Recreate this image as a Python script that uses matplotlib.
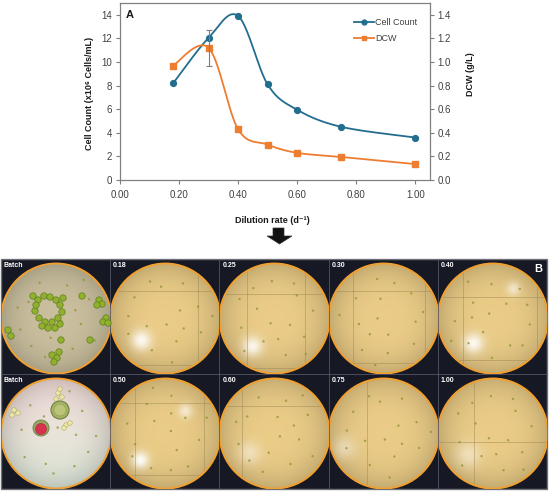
import numpy as np
import matplotlib
matplotlib.use("Agg")
import matplotlib.pyplot as plt
from matplotlib.patches import Circle, Rectangle, Polygon
from matplotlib.lines import Line2D

plt.rcParams['font.family'] = ['Liberation Sans', 'DejaVu Sans']

# ---- data ----
dilution = [0.18, 0.30, 0.40, 0.50, 0.60, 0.75, 1.00]
cell_count = [8.2, 12.05, 13.9, 8.1, 5.95, 4.5, 3.6]
dcw = [0.97, 1.12, 0.43, 0.30, 0.23, 0.195, 0.135]
dcw_err_x = 0.30
dcw_err_y = 1.12
dcw_err = 0.15

x_ticks = [0.0, 0.2, 0.4, 0.6, 0.8, 1.0]
left_ticks = [0, 2, 4, 6, 8, 10, 12, 14]
right_ticks = [0.0, 0.2, 0.4, 0.6, 0.8, 1.0, 1.2, 1.4]

image_labels = ['Batch', '0.18', '0.25', '0.30', '0.40',
                'Batch', '0.50', '0.60', '0.75', '1.00']

BLUE = '#236d8f'
ORANGE = '#ed7d31'
W, H = 550, 494


def smooth(x, y, n=40):
    # excel style smoothed line (bezier, 1/6 tangents)
    pts = np.column_stack([x, y]).astype(float)
    out = []
    for i in range(len(pts) - 1):
        p0 = pts[i - 1] if i > 0 else pts[i]
        p1, p2 = pts[i], pts[i + 1]
        p3 = pts[i + 2] if i + 2 < len(pts) else pts[i + 1]
        c1 = p1 + (p2 - p0) / 6
        c2 = p2 - (p3 - p1) / 6
        t = np.linspace(0, 1, n)[:, None]
        out.append((1 - t)**3 * p1 + 3 * (1 - t)**2 * t * c1
                   + 3 * (1 - t) * t**2 * c2 + t**3 * p2)
    s = np.vstack(out)
    return s[:, 0], s[:, 1]


fig = plt.figure(figsize=(5.5, 4.94), dpi=100)

# overlay in pixel coords for the arrow and the photo panel
ov = fig.add_axes([0, 0, 1, 1])
ov.set_xlim(0, W)
ov.set_ylim(H, 0)
ov.axis('off')

###### chart A ######
ax = fig.add_axes([120 / W, 1 - 180 / H, 310 / W, 177 / H])
ax2 = ax.twinx()

sx, sy = smooth(dilution, cell_count)
ax.plot(sx, sy, color=BLUE, lw=1.3, zorder=3)
ax.plot(dilution, cell_count, 'o', color=BLUE, ms=4.2, zorder=4)

dx, dy = smooth(dilution, dcw)
ax2.plot(dx, dy, color=ORANGE, lw=1.3, zorder=3)
ax2.plot(dilution, dcw, 's', color=ORANGE, ms=4.0, zorder=4)
ax2.errorbar([dcw_err_x], [dcw_err_y], yerr=dcw_err, fmt='none',
             ecolor='#7f7f7f', elinewidth=0.8, capsize=2.2, capthick=0.8, zorder=5)

ax.set_xlim(0, 1.05)
ax.set_ylim(0, 15)
ax2.set_ylim(0, 1.5)
ax.set_xticks(x_ticks)
ax.set_xticklabels(['%.2f' % v for v in x_ticks])
ax.set_yticks(left_ticks)
ax2.set_yticks(right_ticks)
ax2.set_yticklabels(['%.1f' % v for v in right_ticks])

for a in (ax, ax2):
    for sp in a.spines.values():
        sp.set_color('#7f7f7f')
        sp.set_linewidth(0.8)
    a.tick_params(length=3, width=0.8, color='#7f7f7f', labelsize=7,
                  labelcolor='#404040', pad=2.5)
ax.tick_params(axis='x', pad=4)

lab = dict(fontsize=6.5, fontweight='bold', color='#1a1a1a')
ax.set_xlabel('Dilution rate (d⁻¹)', **lab)
ax.xaxis.set_label_coords(0.49, -0.205)
ax.set_ylabel('Cell Count (x10⁶ Cells/mL)', **lab)
ax.yaxis.set_label_coords(-0.085, 0.49)
ax2.set_ylabel('DCW (g/L)', **lab)
ax2.yaxis.set_label_coords(1.115, 0.6)

ax.text(0.02, 0.932, 'A', transform=ax.transAxes, fontsize=8,
        fontweight='bold', va='center', ha='left', color='#1a1a1a')

handles = [Line2D([], [], color=BLUE, lw=1.3, marker='o', ms=3.5),
           Line2D([], [], color=ORANGE, lw=1.3, marker='s', ms=3.5)]
ax2.legend(handles, ['Cell Count', 'DCW'], loc='upper left',
           bbox_to_anchor=(0.755, 0.915), frameon=False, fontsize=6.5,
           handlelength=2.2, handletextpad=0.15, labelspacing=0.75,
           borderpad=0, borderaxespad=0, labelcolor='#404040')

###### arrow ######
arrow = [(273, 228), (284, 228), (284, 236), (292, 236), (279.5, 244),
         (267, 236), (273, 236)]
ov.add_patch(Polygon(arrow, closed=True, fc='#111111', ec='#333333', lw=0.5))

###### panel B (micrographs) ######
px0, py0, px1, py1 = 1, 259, 547, 489
cw = (px1 - px0) / 5
ch = (py1 - py0) / 2
ov.add_patch(Rectangle((px0, py0), px1 - px0, py1 - py0, fc='#161824',
                       ec='#8a8a8a', lw=1.0, zorder=1))

# glare spots per image: (dx, dy, size, strength)
glare = {1: [(-24, 22, 7, 0.9)], 2: [(-22, 28, 7, 0.85)],
         4: [(-20, 25, 7, 0.9), (20, -30, 5, 0.55)],
         6: [(-25, 27, 6, 0.95), (20, -22, 5, 0.6)], 7: [(-25, 20, 8, 0.45)],
         8: [(-40, 15, 8, 0.4)], 9: [(-25, 22, 9, 0.45)]}
# counting-chamber grid lines (relative to radius)
grid_v = {1: [0.6], 2: [-0.5, 0.55], 3: [-0.55, 0.75], 4: [-0.55, 0.8],
          6: [-0.55, 0.7], 7: [-0.6], 8: [-0.3], 9: [-0.35]}
grid_h = {1: [-0.5, 0.85], 2: [-0.45, 0.9], 3: [-0.5, 0.8], 4: [-0.4, 0.75],
          6: [-0.55, 0.75], 7: [-0.5], 8: [], 9: [0.15]}
dots = [(-0.5, -0.3), (0.2, -0.6), (0.45, 0.1), (-0.1, 0.35), (0.6, -0.35),
        (-0.65, 0.2), (0.1, 0.05), (0.3, 0.55), (-0.3, -0.65), (0.7, 0.4),
        (-0.2, 0.7), (0.05, -0.3), (-0.45, 0.5), (0.5, -0.7), (0.35, -0.15),
        (-0.7, -0.2)]

for k in range(10):
    row, col = divmod(k, 5)
    x0 = px0 + col * cw
    y0 = py0 + row * ch
    cx = x0 + cw / 2 + 0.5
    cy = y0 + ch / 2 + 2
    r = 55
    cell = Rectangle((x0, y0), cw, ch, transform=ov.transData)
    circ = Circle((cx, cy), r, transform=ov.transData)

    # background image of the field
    gx, gy = np.meshgrid(np.linspace(x0, x0 + cw, 110), np.linspace(y0, y0 + ch, 115))
    if col == 0 and row == 0:
        base = np.array([0.79, 0.75, 0.62])
        img = np.ones(gx.shape + (3,)) * base
    elif col == 0:
        t = ((gy - y0) / ch)[..., None]
        img = (1 - t) * np.array([0.95, 0.86, 0.85]) + t * np.array([0.88, 0.92, 0.86])
    else:
        base = np.array([0.92, 0.80, 0.53])
        img = np.ones(gx.shape + (3,)) * base
    d = np.sqrt((gx - cx)**2 + (gy - cy)**2) / r
    img = img * (1 - 0.16 * np.clip(d, 0, 1)[..., None]**3)
    for gdx, gdy, gs, gst in glare.get(k, []):
        w = gst * np.exp(-((gx - cx - gdx)**2 + (gy - cy - gdy)**2) / (2 * gs**2))
        img = img * (1 - w[..., None]) + w[..., None]
    im = ov.imshow(np.clip(img, 0, 1), extent=(x0, x0 + cw, y0 + ch, y0),
                   aspect='auto', zorder=2, interpolation='bilinear')
    im.set_clip_path(circ)

    # chamber grid lines
    for v in grid_v.get(k, []):
        ln, = ov.plot([cx + v * r] * 2, [cy - r, cy + r], color='#9c8650',
                      lw=0.6, alpha=0.55, zorder=3)
        ln.set_clip_path(circ)
    for h in grid_h.get(k, []):
        ln, = ov.plot([cx - r, cx + r], [cy + h * r] * 2, color='#9c8650',
                      lw=0.6, alpha=0.55, zorder=3)
        ln.set_clip_path(circ)

    # scattered small cells
    ang = 0.9 * k
    ca, sa = np.cos(ang), np.sin(ang)
    for ddx, ddy in dots:
        ux = ca * ddx - sa * ddy
        uy = sa * ddx + ca * ddy
        ov.add_patch(Circle((cx + ux * r, cy + uy * r), 1.2, fc='#8c9430',
                            ec='none', alpha=0.75, zorder=4))

    ring = Circle((cx, cy), r, fc='none', ec='#f0a030', lw=1.4, zorder=5)
    ov.add_patch(ring)
    ring.set_clip_path(cell)

    ov.text(x0 + 3, y0 + 2.5, image_labels[k], color='white', fontsize=5,
            fontweight='bold', ha='left', va='top', zorder=8)

    # thin separators
    ov.add_patch(Rectangle((x0, y0), cw, ch, fc='none', ec='#55586a',
                           lw=0.4, zorder=6))

# batch (top): green cell clusters
green_top = [(38, 300), (44, 296), (50, 297), (56, 300), (60, 305), (62, 312),
             (58, 318), (52, 322), (45, 322), (39, 318), (35, 311), (36, 305),
             (33, 296), (63, 298), (55, 328), (48, 328), (42, 326), (60, 324),
             (99, 300), (102, 304), (97, 305), (106, 318), (103, 322), (108, 323),
             (52, 355), (57, 358), (54, 362), (59, 352), (82, 296), (90, 340),
             (8, 330), (11, 336), (61, 340)]
for gxp, gyp in green_top:
    ov.add_patch(Circle((gxp, gyp), 3.2, fc='#90b02e', ec='#5f7d1c', lw=0.5, zorder=6))

# batch (bottom): pale cells, green cyst and red cyst
pale = [(58, 393), (62, 397), (56, 399), (60, 389), (14, 410), (18, 413),
        (12, 415), (66, 425), (70, 423), (64, 428)]
for gxp, gyp in pale:
    ov.add_patch(Circle((gxp, gyp), 2.3, fc='#eae6a6', ec='#b0ae66', lw=0.4, zorder=6))
ov.add_patch(Circle((60, 410), 9, fc='#a6b464', ec='#6a8040', lw=0.8, zorder=6))
ov.add_patch(Circle((60, 410), 6, fc='#bcc47a', ec='#8a9a50', lw=0.4, zorder=6))
ov.add_patch(Circle((41, 428), 8, fc='#98a862', ec='#6a7e40', lw=0.6, zorder=6))
ov.add_patch(Circle((41, 429), 5.5, fc='#d83250', ec='#b02040', lw=0.4, zorder=7))

ov.text(px1 - 5, py0 + 5, 'B', color='white', fontsize=8, fontweight='bold',
        ha='right', va='top', zorder=8)

fig.savefig('out.png', dpi=100)
